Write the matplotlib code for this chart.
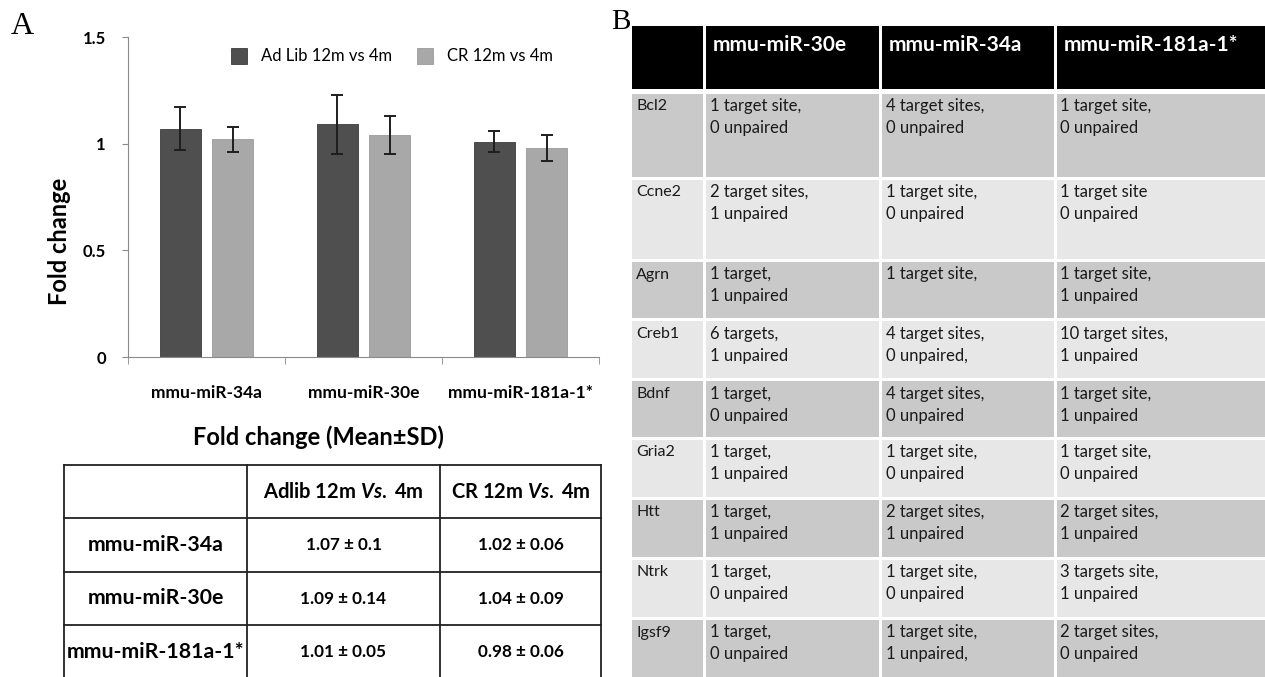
import matplotlib
matplotlib.use("Agg")
import matplotlib.pyplot as plt
from matplotlib.patches import Rectangle
import numpy as np

plt.rcParams['font.family'] = ['Lato', 'DejaVu Sans']
plt.rcParams['mathtext.fontset'] = 'custom'
plt.rcParams['mathtext.rm'] = 'Lato:bold'
plt.rcParams['mathtext.it'] = 'Lato:bold:italic'

# ---- data, panel A ----
mirnas = ['mmu-miR-34a', 'mmu-miR-30e', 'mmu-miR-181a-1*']
adlib_mean = [1.07, 1.09, 1.01]
adlib_sd = [0.10, 0.14, 0.05]
cr_mean = [1.02, 1.04, 0.98]
cr_sd = [0.06, 0.09, 0.06]
series_names = ['Ad Lib 12m vs 4m', 'CR 12m vs 4m']
yticks = [0, 0.5, 1, 1.5]
ytick_labels = ['0', '0.5', '1', '1.5']
tableA_title = 'Fold change (Mean\u00b1SD)'
tableA_header = ['', 'Adlib 12m $\\mathit{Vs.}$ 4m', 'CR 12m $\\mathit{Vs.}$ 4m']

# ---- data, panel B ----
genes = ['Bcl2', 'Ccne2', 'Agrn', 'Creb1', 'Bdnf', 'Gria2', 'Htt', 'Ntrk', 'Igsf9']
b_cols = ['mmu-miR-30e', 'mmu-miR-34a', 'mmu-miR-181a-1*']
sites_30e = ['1 target site,\n0 unpaired', '2 target sites,\n1 unpaired',
             '1 target,\n1 unpaired', '6 targets,\n1 unpaired',
             '1 target,\n0 unpaired', '1 target,\n1 unpaired',
             '1 target,\n1 unpaired', '1 target,\n0 unpaired',
             '1 target,\n0 unpaired']
sites_34a = ['4 target sites,\n0 unpaired', '1 target site,\n0 unpaired',
             '1 target site,', '4 target sites,\n0 unpaired,',
             '4 target sites,\n0 unpaired', '1 target site,\n0 unpaired',
             '2 target sites,\n1 unpaired', '1 target site,\n0 unpaired',
             '1 target site,\n1 unpaired,']
sites_181 = ['1 target site,\n0 unpaired', '1 target site\n0 unpaired',
             '1 target site,\n1 unpaired', '10 target sites,\n1 unpaired',
             '1 target site,\n1 unpaired', '1 target site,\n0 unpaired',
             '2 target sites,\n1 unpaired', '3 targets site,\n1 unpaired',
             '2 target sites,\n0 unpaired']

W, H = 1265, 677
fig = plt.figure(figsize=(W / 100, H / 100), dpi=100)

# ---------------- panel A: bar chart ----------------
ax = fig.add_axes([128 / W, 1 - 357 / H, 471 / W, 320 / H])
x = np.arange(len(mirnas)) + 0.5
w = 0.26
off = 0.168
dark, light = '#4f4f4f', '#a8a8a8'
ax.bar(x - off, adlib_mean, w, color=dark, edgecolor='#3c3c3c', lw=0.6,
       label=series_names[0])
ax.bar(x + off, cr_mean, w, color=light, edgecolor='#9a9a9a', lw=0.6,
       label=series_names[1])
ax.errorbar(x - off, adlib_mean, yerr=adlib_sd, fmt='none', ecolor='#1e1e1e',
            elinewidth=1.4, capsize=4, capthick=1.4)
ax.errorbar(x + off, cr_mean, yerr=cr_sd, fmt='none', ecolor='#1e1e1e',
            elinewidth=1.4, capsize=4, capthick=1.4)

ax.set_xlim(0, 3)
ax.set_ylim(0, 1.5)
ax.set_yticks(yticks)
ax.set_yticklabels(ytick_labels, fontweight='bold', fontsize=12)
ax.set_xticks(x)
ax.set_xticklabels(mirnas, fontweight='bold', fontsize=12.5)
ax.set_xticks([0, 1, 2, 3], minor=True)
ax.tick_params(axis='x', which='major', length=0, pad=20)
ax.tick_params(axis='x', which='minor', length=5, color='#8a8a8a')
ax.tick_params(axis='y', length=4, color='#8a8a8a', pad=12)
for s in ['top', 'right']:
    ax.spines[s].set_visible(False)
for s in ['left', 'bottom']:
    ax.spines[s].set_color('#8a8a8a')
ax.set_ylabel('Fold change', fontweight='bold', fontsize=17)
ax.yaxis.set_label_coords(-0.12, 0.36)
ax.legend(ncol=2, loc='upper left', bbox_to_anchor=(224 / W, 1 - 41 / H),
          bbox_transform=fig.transFigure, frameon=False, fontsize=12,
          handlelength=1.0, handleheight=1.1, handletextpad=0.8,
          columnspacing=1.5, borderaxespad=0)

# ---------------- overlay in pixel coordinates ----------------
ov = fig.add_axes([0, 0, 1, 1])
ov.set_xlim(0, W)
ov.set_ylim(H, 0)
ov.axis('off')
ov.patch.set_visible(False)

ov.text(11, 26, 'A', fontsize=23, family='Liberation Serif', va='center')
ov.text(611, 22, 'B', fontsize=21, family='Liberation Serif', va='center',
        zorder=5)

# table A
ov.text(318, 437, tableA_title, fontsize=17, fontweight='bold',
        ha='center', va='center')
a_cols = [64, 247, 440, 601]
a_rows = [465, 518, 572, 625, 679]
for cx in a_cols:
    ov.plot([cx, cx], [a_rows[0], H], color='#222222', lw=1.3)
for ry in a_rows:
    ov.plot([a_cols[0], a_cols[-1]], [ry, ry], color='#222222', lw=1.3)

a_body = [[m] + [f'{am:.2f} \u00b1 {asd:g}', f'{cm:.2f} \u00b1 {csd:g}']
          for m, am, asd, cm, csd in zip(mirnas, adlib_mean, adlib_sd,
                                          cr_mean, cr_sd)]
for j, lab in enumerate(tableA_header):
    cxm = (a_cols[j] + a_cols[j + 1]) / 2
    ov.text(cxm, (a_rows[0] + a_rows[1]) / 2, lab, fontsize=14.5,
            fontweight='bold', ha='center', va='center')
for i, row in enumerate(a_body):
    cy = (a_rows[i + 1] + a_rows[i + 2]) / 2
    for j, val in enumerate(row):
        cxm = (a_cols[j] + a_cols[j + 1]) / 2
        if j == 0:
            ov.text(cxm, cy, val, fontsize=15.3, fontweight='bold',
                    ha='center', va='center')
        else:
            ov.text(cxm, cy, val, fontsize=12.3, fontweight='bold',
                    ha='center', va='center')

# table B
b_x = [632, 704, 880, 1055, 1265]
b_y = [26, 92, 178, 260, 319, 379, 438, 498, 558, 618, 680]
gap = 3
cell_cols = [genes, sites_30e, sites_34a, sites_181]
for j in range(4):
    x0 = b_x[j] + (0 if j == 0 else gap / 2)
    x1 = b_x[j + 1] - (0 if j == 3 else gap / 2)
    ov.add_patch(Rectangle((x0, b_y[0]), x1 - x0, b_y[1] - b_y[0] - 3,
                           color='black', lw=0))
    if j > 0:
        ov.text(x0 + 7, 45, b_cols[j - 1], fontsize=15, fontweight='bold',
                color='white', va='center')
    for i in range(len(genes)):
        y0 = b_y[i + 1] + gap / 2
        y1 = b_y[i + 2] - gap / 2
        fc = '#c9c9c9' if i % 2 == 0 else '#e7e7e7'
        ov.add_patch(Rectangle((x0, y0), x1 - x0, y1 - y0, color=fc, lw=0))
        lines = cell_cols[j][i].split('\n')
        fs = 11.5 if j == 0 else 12
        for k, ln in enumerate(lines):
            ov.text(x0 + 4, y0 + 13 + 22 * k, ln,
                    fontsize=fs, color='#1a1a1a', va='center')

fig.savefig('out.png', dpi=100)
